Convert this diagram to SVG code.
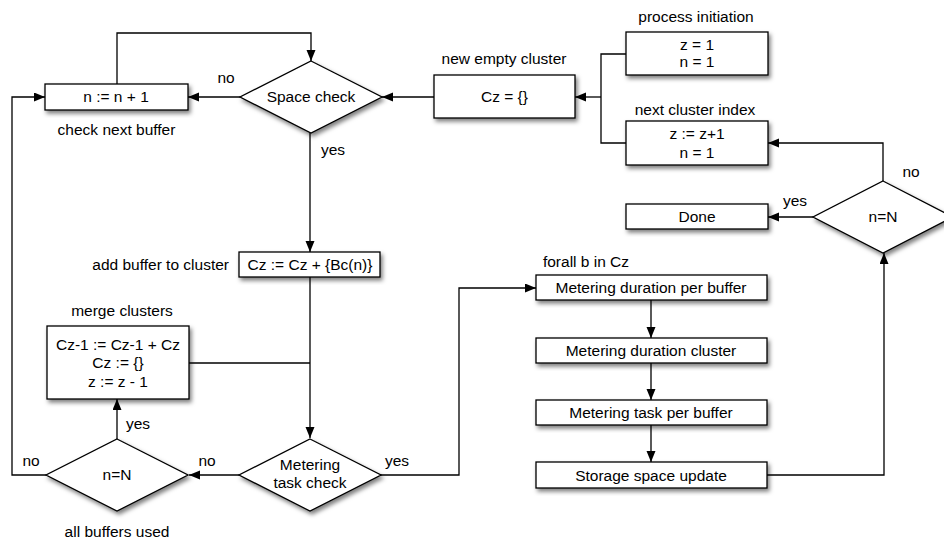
<svg xmlns="http://www.w3.org/2000/svg" width="944" height="540" viewBox="0 0 944 540">
  <defs>
    <filter id="shadow" x="-10%" y="-20%" width="130%" height="150%">
      <feDropShadow dx="2" dy="3" stdDeviation="2" flood-color="#000" flood-opacity="0.5"/>
    </filter>
    <marker id="arrow" markerUnits="userSpaceOnUse" markerWidth="12" markerHeight="10" refX="11" refY="4.5" orient="auto">
      <path d="M0,0 L11,4.5 L0,9 z" fill="#000"/>
    </marker>
  </defs>
  <style>
    text { font-family: "Liberation Sans", Arial, Helvetica, sans-serif; font-size: 15.5px; fill: #000; }
    .c { text-anchor: middle; }
    .shape { fill: #fff; stroke: #000; stroke-width: 1.3; filter: url(#shadow); }
    .edge { fill: none; stroke: #000; stroke-width: 1.3; }
    .arr { marker-end: url(#arrow); }
  </style>
  <rect width="944" height="540" fill="#fff"/>

  <!-- connectors -->
  <g id="connectors">
    <path class="edge arr" d="M117,84 V33 H311 V61"/>
    <path class="edge arr" d="M240,97 H188"/>
    <path class="edge arr" d="M434,97 H382"/>
    <path class="edge" d="M626,54 H601 V143 H626"/>
    <path class="edge arr" d="M601,97 H575"/>
    <path class="edge arr" d="M883,181 V143 H768"/>
    <path class="edge arr" d="M813,217 H768"/>
    <path class="edge arr" d="M310,133 V252"/>
    <path class="edge arr" d="M310,277 V438"/>
    <path class="edge" d="M189,363 H310"/>
    <path class="edge arr" d="M239,475 H189"/>
    <path class="edge arr" d="M117,439 V399"/>
    <path class="edge arr" d="M46,475 H12 V97 H45"/>
    <path class="edge arr" d="M380,475 H459 V288 H536"/>
    <path class="edge arr" d="M651,300 V338"/>
    <path class="edge arr" d="M651,363 V400"/>
    <path class="edge arr" d="M651,425 V462"/>
    <path class="edge arr" d="M767,475 H884 V253"/>
  </g>

  <!-- nodes -->
  <g id="next-buffer">
    <rect class="shape" x="45" y="84" width="143" height="26"/>
    <text class="c" x="116" y="102">n := n + 1</text>
    <text class="c" x="116.5" y="135">check next buffer</text>
  </g>

  <g id="space-check">
    <polygon class="shape" points="311,61 382,97 311,133 240,97"/>
    <text class="c" x="311" y="102">Space check</text>
  </g>

  <g id="new-cluster">
    <rect class="shape" x="434" y="75" width="141" height="43"/>
    <text class="c" x="504.5" y="102">Cz = {}</text>
    <text class="c" x="504" y="64">new empty cluster</text>
  </g>

  <g id="init">
    <rect class="shape" x="626" y="32" width="142" height="43"/>
    <text class="c" x="697" y="50">z = 1</text>
    <text class="c" x="697" y="67">n = 1</text>
    <text class="c" x="696" y="22">process initiation</text>
  </g>

  <g id="next-cluster">
    <rect class="shape" x="626" y="121" width="142" height="44"/>
    <text class="c" x="697" y="139">z := z+1</text>
    <text class="c" x="697" y="158">n = 1</text>
    <text class="c" x="695" y="115">next cluster index</text>
  </g>

  <g id="done">
    <rect class="shape" x="626" y="204" width="142" height="25"/>
    <text class="c" x="697" y="221.5">Done</text>
  </g>

  <g id="all-clusters-check">
    <polygon class="shape" points="883,181 953,217 883,253 813,217"/>
    <text class="c" x="883" y="221.5">n=N</text>
    <text class="c" x="911" y="177">no</text>
    <text class="c" x="795" y="206">yes</text>
  </g>

  <g id="add-buffer">
    <rect class="shape" x="239" y="252" width="141" height="25"/>
    <text class="c" x="310" y="269.5">Cz := Cz + {Bc(n)}</text>
    <text x="229" y="269.5" text-anchor="end">add buffer to cluster</text>
  </g>

  <g id="merge">
    <rect class="shape" x="47" y="326" width="142" height="73"/>
    <text class="c" x="118" y="349.5">Cz-1 := Cz-1 + Cz</text>
    <text class="c" x="118" y="368">Cz := {}</text>
    <text class="c" x="118" y="386.5">z := z - 1</text>
    <text class="c" x="122" y="316">merge clusters</text>
  </g>

  <g id="metering-check">
    <polygon class="shape" points="310,439 381,475 310,511 239,475"/>
    <text class="c" x="310" y="470">Metering</text>
    <text class="c" x="310" y="488">task check</text>
  </g>

  <g id="all-buffers-check">
    <polygon class="shape" points="117,439 188,475 117,511 46,475"/>
    <text class="c" x="117" y="479.5">n=N</text>
    <text class="c" x="117" y="537">all buffers used</text>
  </g>

  <g id="metering-duration-buffer">
    <rect class="shape" x="536" y="275" width="231" height="25"/>
    <text class="c" x="651" y="293">Metering duration per buffer</text>
    <text class="c" x="586" y="267">forall b in Cz</text>
  </g>

  <g id="metering-duration-cluster">
    <rect class="shape" x="536" y="338" width="231" height="25"/>
    <text class="c" x="651" y="356">Metering duration cluster</text>
  </g>

  <g id="metering-task-buffer">
    <rect class="shape" x="536" y="400" width="231" height="25"/>
    <text class="c" x="651" y="418">Metering task per buffer</text>
  </g>

  <g id="storage-update">
    <rect class="shape" x="536" y="462" width="231" height="26"/>
    <text class="c" x="651" y="480.5">Storage space update</text>
  </g>

  <!-- branch labels -->
  <g id="branch-labels">
    <text class="c" x="226" y="83">no</text>
    <text x="321" y="155">yes</text>
    <text x="126" y="429">yes</text>
    <text class="c" x="207" y="466">no</text>
    <text class="c" x="31" y="466">no</text>
    <text class="c" x="397" y="466">yes</text>
  </g>
</svg>
